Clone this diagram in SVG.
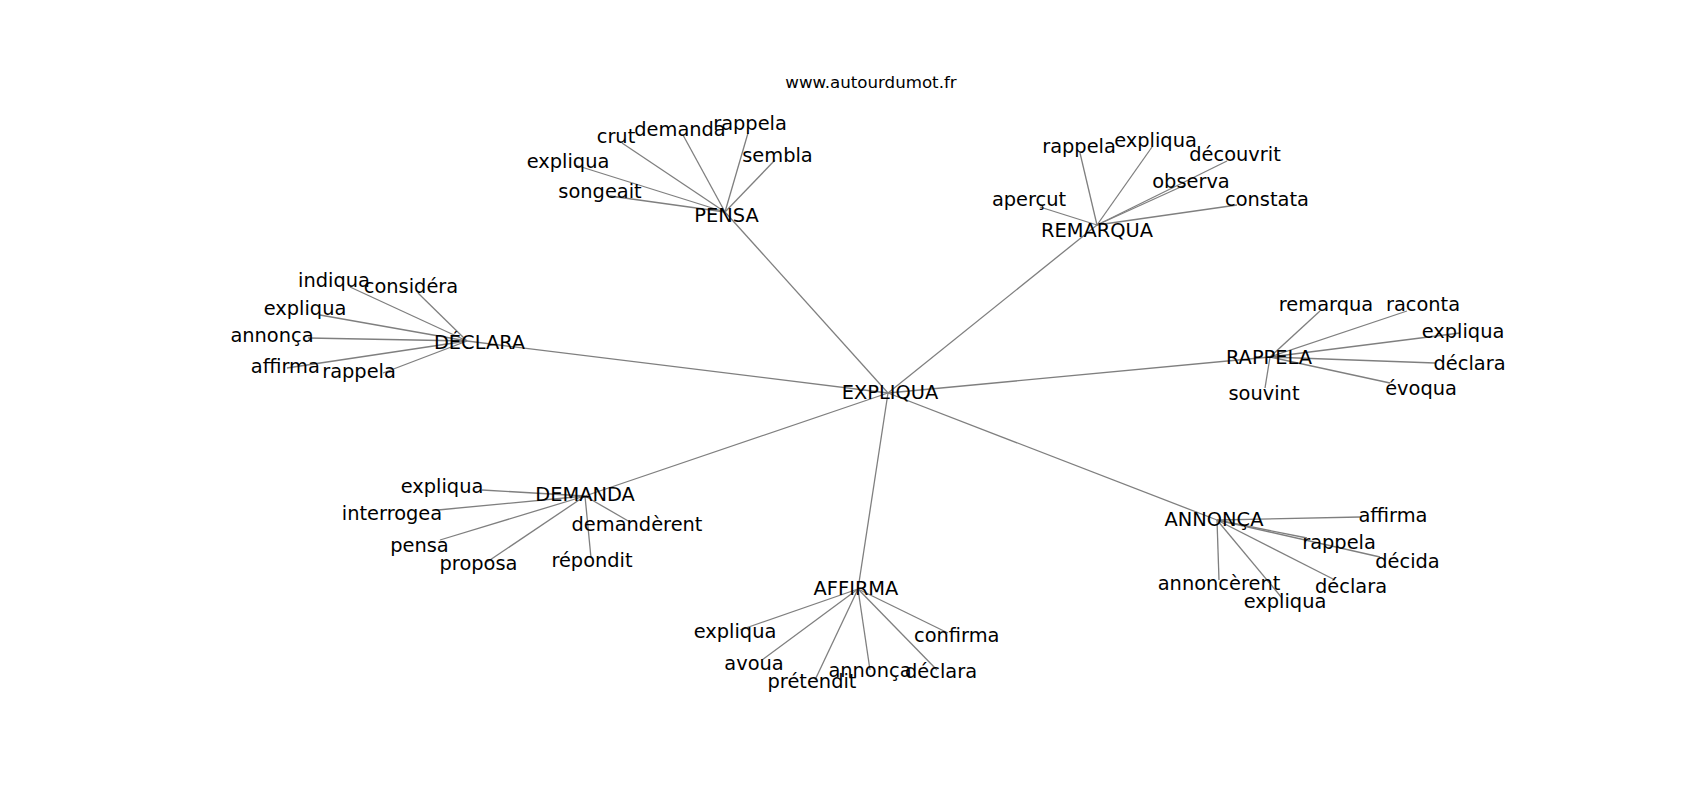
<svg xmlns="http://www.w3.org/2000/svg" width="1700" height="800" viewBox="0 0 1700 800">
<style>
.e{stroke:#7f7f7f;stroke-width:1.3;fill:none}
.l{font-family:"DejaVu Sans",sans-serif;font-size:19.4px;fill:#000;text-anchor:middle}
.t{font-family:"DejaVu Sans",sans-serif;font-size:16.67px;fill:#000;text-anchor:middle}
</style>
<rect width="1700" height="800" fill="#fff"/>
<text class="t" x="871" y="88">www.autourdumot.fr</text>
<g id="edges" class="e">
<line x1="888" y1="393" x2="725" y2="212"/>
<line x1="888" y1="393" x2="1097" y2="225"/>
<line x1="888" y1="393" x2="467" y2="341"/>
<line x1="888" y1="393" x2="1270" y2="357"/>
<line x1="888" y1="393" x2="585" y2="496"/>
<line x1="888" y1="393" x2="858" y2="589"/>
<line x1="888" y1="393" x2="1217" y2="520"/>
<line x1="725" y1="212" x2="622" y2="143"/>
<line x1="725" y1="212" x2="683" y2="135"/>
<line x1="725" y1="212" x2="748" y2="133"/>
<line x1="725" y1="212" x2="775" y2="160"/>
<line x1="725" y1="212" x2="575" y2="165"/>
<line x1="725" y1="212" x2="610" y2="196"/>
<line x1="1097" y1="225" x2="1080" y2="153"/>
<line x1="1097" y1="225" x2="1152" y2="147"/>
<line x1="1097" y1="225" x2="1227" y2="161"/>
<line x1="1097" y1="225" x2="1185" y2="185"/>
<line x1="1097" y1="225" x2="1040" y2="207"/>
<line x1="1097" y1="225" x2="1237" y2="205"/>
<line x1="467" y1="341" x2="350" y2="287"/>
<line x1="467" y1="341" x2="418" y2="293"/>
<line x1="467" y1="341" x2="320" y2="315"/>
<line x1="467" y1="341" x2="308" y2="338"/>
<line x1="467" y1="341" x2="287" y2="368"/>
<line x1="467" y1="341" x2="383" y2="373"/>
<line x1="1270" y1="357" x2="1320" y2="311"/>
<line x1="1270" y1="357" x2="1407" y2="311"/>
<line x1="1270" y1="357" x2="1460" y2="333"/>
<line x1="1270" y1="357" x2="1435" y2="363"/>
<line x1="1270" y1="357" x2="1390" y2="383"/>
<line x1="1270" y1="357" x2="1265" y2="388"/>
<line x1="585" y1="496" x2="482" y2="490"/>
<line x1="585" y1="496" x2="438" y2="510"/>
<line x1="585" y1="496" x2="630" y2="522"/>
<line x1="585" y1="496" x2="440" y2="540"/>
<line x1="585" y1="496" x2="487" y2="562"/>
<line x1="585" y1="496" x2="591" y2="558"/>
<line x1="1217" y1="520" x2="1360" y2="517"/>
<line x1="1217" y1="520" x2="1307" y2="538"/>
<line x1="1217" y1="520" x2="1380" y2="557"/>
<line x1="1217" y1="520" x2="1219" y2="580"/>
<line x1="1217" y1="520" x2="1282" y2="598"/>
<line x1="1217" y1="520" x2="1335" y2="580"/>
<line x1="858" y1="589" x2="740" y2="630"/>
<line x1="858" y1="589" x2="762" y2="660"/>
<line x1="858" y1="589" x2="815" y2="680"/>
<line x1="858" y1="589" x2="870" y2="670"/>
<line x1="858" y1="589" x2="937" y2="670"/>
<line x1="858" y1="589" x2="948" y2="633"/>
</g>
<g id="n-expliqua"><text class="l" x="890" y="399">EXPLIQUA</text></g>
<g id="n-pensa"><text class="l" x="726.5" y="221.7">PENSA</text></g>
<g id="n-pensa-crut"><text class="l" x="616" y="142.7">crut</text></g>
<g id="n-pensa-demanda"><text class="l" x="680" y="136">demanda</text></g>
<g id="n-pensa-rappela"><text class="l" x="750" y="130">rappela</text></g>
<g id="n-pensa-sembla"><text class="l" x="777.5" y="161.7">sembla</text></g>
<g id="n-pensa-expliqua"><text class="l" x="568" y="168.3">expliqua</text></g>
<g id="n-pensa-songeait"><text class="l" x="600" y="198.3">songeait</text></g>
<g id="n-remarqua"><text class="l" x="1097" y="237.3">REMARQUA</text></g>
<g id="n-remarqua-rappela"><text class="l" x="1079" y="153.3">rappela</text></g>
<g id="n-remarqua-expliqua"><text class="l" x="1155.5" y="146.7">expliqua</text></g>
<g id="n-remarqua-decouvrit"><text class="l" x="1235" y="160.7">découvrit</text></g>
<g id="n-remarqua-observa"><text class="l" x="1191" y="188.3">observa</text></g>
<g id="n-remarqua-apercut"><text class="l" x="1029" y="206">aperçut</text></g>
<g id="n-remarqua-constata"><text class="l" x="1267" y="206">constata</text></g>
<g id="n-declara"><text class="l" x="479.5" y="349.3">DÉCLARA</text></g>
<g id="n-declara-indiqua"><text class="l" x="334" y="286.7">indiqua</text></g>
<g id="n-declara-considera"><text class="l" x="411" y="293.3">considéra</text></g>
<g id="n-declara-expliqua"><text class="l" x="305" y="315">expliqua</text></g>
<g id="n-declara-annonca"><text class="l" x="272" y="341.7">annonça</text></g>
<g id="n-declara-affirma"><text class="l" x="285.3" y="373.3">affirma</text></g>
<g id="n-declara-rappela"><text class="l" x="359" y="378.3">rappela</text></g>
<g id="n-rappela"><text class="l" x="1269" y="363.7">RAPPELA</text></g>
<g id="n-rappela-remarqua"><text class="l" x="1326" y="311">remarqua</text></g>
<g id="n-rappela-raconta"><text class="l" x="1423" y="311">raconta</text></g>
<g id="n-rappela-expliqua"><text class="l" x="1463" y="338">expliqua</text></g>
<g id="n-rappela-declara"><text class="l" x="1469.5" y="370">déclara</text></g>
<g id="n-rappela-evoqua"><text class="l" x="1421" y="395">évoqua</text></g>
<g id="n-rappela-souvint"><text class="l" x="1264" y="400">souvint</text></g>
<g id="n-demanda"><text class="l" x="585" y="501">DEMANDA</text></g>
<g id="n-demanda-expliqua"><text class="l" x="442" y="493">expliqua</text></g>
<g id="n-demanda-interrogea"><text class="l" x="392" y="520">interrogea</text></g>
<g id="n-demanda-demanderent"><text class="l" x="637" y="531">demandèrent</text></g>
<g id="n-demanda-pensa"><text class="l" x="419.5" y="551.7">pensa</text></g>
<g id="n-demanda-proposa"><text class="l" x="478.5" y="570">proposa</text></g>
<g id="n-demanda-repondit"><text class="l" x="592" y="566.7">répondit</text></g>
<g id="n-annonca"><text class="l" x="1214" y="525.7">ANNONÇA</text></g>
<g id="n-annonca-affirma"><text class="l" x="1393" y="521.7">affirma</text></g>
<g id="n-annonca-rappela"><text class="l" x="1339" y="549.3">rappela</text></g>
<g id="n-annonca-decida"><text class="l" x="1407.5" y="567.7">décida</text></g>
<g id="n-annonca-annoncerent"><text class="l" x="1219" y="590">annoncèrent</text></g>
<g id="n-annonca-expliqua"><text class="l" x="1285" y="608.3">expliqua</text></g>
<g id="n-annonca-declara"><text class="l" x="1351" y="593.3">déclara</text></g>
<g id="n-affirma"><text class="l" x="856" y="595">AFFIRMA</text></g>
<g id="n-affirma-expliqua"><text class="l" x="735" y="638.3">expliqua</text></g>
<g id="n-affirma-avoua"><text class="l" x="754" y="670">avoua</text></g>
<g id="n-affirma-pretendit"><text class="l" x="812" y="688.3">prétendit</text></g>
<g id="n-affirma-annonca"><text class="l" x="870" y="676.7">annonça</text></g>
<g id="n-affirma-declara"><text class="l" x="941" y="678.3">déclara</text></g>
<g id="n-affirma-confirma"><text class="l" x="956.7" y="641.7">confirma</text></g>
</svg>
